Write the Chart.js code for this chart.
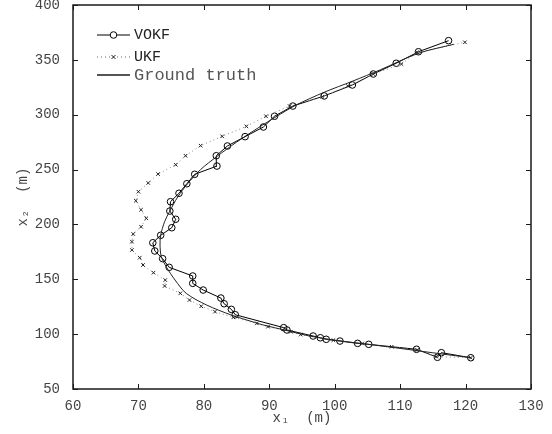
<!DOCTYPE html>
<html>
<head>
<meta charset="utf-8">
<script src="https://cdn.jsdelivr.net/npm/chart.js@4/dist/chart.umd.min.js"></script>
<style>
html, body { margin: 0; padding: 0; background: #fff; }
</style>
</head>
<body>
<canvas id="trackChart" width="552" height="434"></canvas>
<script>
// Trajectory estimates (x1, x2 in metres)

var vokfX = [120.8, 116.3, 115.7, 112.5, 105.2, 103.5, 100.8, 98.7, 97.8, 96.7, 92.7, 92.2,
  84.8, 84.2, 83.1, 82.6, 79.9, 78.3, 78.3, 74.7, 73.7, 72.5, 72.2, 73.4, 75.1, 75.7, 74.8,
  74.9, 76.2, 77.4, 78.6, 82.0, 81.9, 83.6, 86.3, 89.1, 90.8, 93.6, 98.4, 102.7, 105.9, 109.4,
  112.8, 117.4];
var vokfY = [78.5, 83.1, 78.9, 86.2, 90.7, 91.6, 93.7, 95.3, 96.7, 98.3, 103.8, 105.9,
  117.7, 122.6, 127.7, 132.9, 140.2, 146.3, 153.0, 160.9, 168.8, 175.8, 183.3, 190.1, 197.0, 204.7, 212.2,
  220.7, 228.4, 237.1, 245.7, 253.2, 262.6, 271.5, 280.0, 288.8, 298.6, 307.9, 317.1, 327.1, 337.1, 346.9,
  357.4, 367.5];

var ukfX = [120.8, 115.5, 112.6, 108.7, 104.2, 99.8, 94.8, 93.3, 89.8, 88.1, 84.5, 81.7,
  79.6, 77.8, 76.4, 74.0, 74.1, 72.3, 70.7, 70.2, 69.0, 69.0, 69.2, 70.4, 71.2, 70.4,
  69.6, 70.0, 71.5, 73.0, 75.7, 77.2, 79.5, 82.8, 86.5, 89.5, 93.1, 98.1, 102.0, 105.9,
  110.2, 112.6, 119.9];
var ukfY = [78.5, 79.5, 85.5, 88.5, 91.5, 94.5, 99.6, 102.2, 106.8, 109.8, 115.3, 120.5,
  125.4, 131.1, 137.2, 143.9, 149.3, 156.0, 163.0, 169.7, 176.7, 184.3, 191.3, 197.9, 205.6, 213.4,
  221.6, 229.8, 237.8, 245.9, 254.4, 262.6, 271.8, 280.3, 289.4, 298.6, 307.9, 316.4, 326.2, 337.0,
  346.2, 356.9, 366.0];

var truthX = [120.8, 115.0, 110.0, 105.0, 100.0, 96.0, 92.5, 89.0, 86.5, 84.2, 80.4, 77.3,
  75.6, 74.3, 73.5, 73.3, 73.4, 74.0, 74.8, 76.0, 77.5, 79.5, 82.0, 85.0, 88.3, 91.0,
  94.0, 98.4, 102.7, 107.0, 112.8, 118.2];
var truthY = [78.5, 83.0, 87.0, 90.8, 94.5, 98.5, 103.5, 108.5, 113.0, 117.4, 126.6, 137.2,
  149.3, 160.9, 170.6, 181.2, 190.1, 202.5, 212.2, 225.0, 237.0, 250.0, 262.0, 275.0, 288.0, 298.0,
  308.5, 320.5, 330.5, 341.0, 356.0, 364.2];

var xTicks = [60, 70, 80, 90, 100, 110, 120, 130];
var yTicks = [50, 100, 150, 200, 250, 300, 350, 400];

var monoFont = "'Liberation Mono', 'DejaVu Sans Mono', monospace";
var textGrey = '#444';

function pairs(xs, ys) {
  return xs.map(function(x, i) { return {x: x, y: ys[i]}; });
}

// box round the plot, inward tick marks and the legend
var framePlugin = {
  id: 'frame',
  afterDraw: function(chart) {
    var ctx = chart.ctx;
    var a = chart.chartArea;
    var xs = chart.scales.x, ys = chart.scales.y;
    ctx.save();
    ctx.strokeStyle = '#1a1a1a';
    ctx.lineWidth = 1.5;
    ctx.strokeRect(a.left, a.top, a.right - a.left, a.bottom - a.top);

    ctx.lineWidth = 1;
    ctx.beginPath();
    xTicks.forEach(function(v) {
      var p = Math.round(xs.getPixelForValue(v)) + 0.5;
      ctx.moveTo(p, a.bottom); ctx.lineTo(p, a.bottom - 5);
      ctx.moveTo(p, a.top); ctx.lineTo(p, a.top + 5);
    });
    yTicks.forEach(function(v) {
      var p = Math.round(ys.getPixelForValue(v)) + 0.5;
      ctx.moveTo(a.left, p); ctx.lineTo(a.left + 5, p);
      ctx.moveTo(a.right, p); ctx.lineTo(a.right - 5, p);
    });
    ctx.stroke();

    // legend
    var x0 = a.left + 24, x1 = a.left + 57, tx = a.left + 61;
    var rows = [a.top + 30, a.top + 52, a.top + 70];
    ctx.textBaseline = 'middle';
    ctx.textAlign = 'left';

    ctx.strokeStyle = '#000';
    ctx.lineWidth = 1;
    ctx.beginPath(); ctx.moveTo(x0, rows[0]); ctx.lineTo(x1, rows[0]); ctx.stroke();
    ctx.fillStyle = '#fff';
    ctx.beginPath(); ctx.arc((x0 + x1) / 2, rows[0], 3.3, 0, Math.PI * 2); ctx.fill(); ctx.stroke();
    ctx.fillStyle = '#222';
    ctx.font = '15px ' + monoFont;
    ctx.fillText('VOKF', tx, rows[0]);

    ctx.strokeStyle = '#666';
    ctx.setLineDash([1, 3]);
    ctx.beginPath(); ctx.moveTo(x0, rows[1]); ctx.lineTo(x1, rows[1]); ctx.stroke();
    ctx.setLineDash([]);
    var cx = (x0 + x1) / 2, r = 2;
    ctx.strokeStyle = '#222';
    ctx.beginPath();
    ctx.moveTo(cx - r, rows[1] - r); ctx.lineTo(cx + r, rows[1] + r);
    ctx.moveTo(cx + r, rows[1] - r); ctx.lineTo(cx - r, rows[1] + r);
    ctx.stroke();
    ctx.fillText('UKF', tx, rows[1]);

    ctx.strokeStyle = '#555';
    ctx.lineWidth = 2;
    ctx.beginPath(); ctx.moveTo(x0, rows[2]); ctx.lineTo(x1, rows[2]); ctx.stroke();
    ctx.fillStyle = '#555';
    ctx.font = '17px ' + monoFont;
    ctx.fillText('Ground truth', tx, rows[2]);
    ctx.restore();
  }
};

new Chart(document.getElementById('trackChart'), {
  type: 'scatter',
  data: {
    datasets: [{
      label: 'Ground truth',
      data: pairs(truthX, truthY),
      showLine: true,
      borderColor: '#222',
      borderWidth: 1,
      tension: 0.3,
      pointRadius: 0
    }, {
      label: 'UKF',
      data: pairs(ukfX, ukfY),
      showLine: true,
      borderColor: '#888',
      borderWidth: 1,
      borderDash: [1, 3],
      pointStyle: 'crossRot',
      pointRadius: 2.5,
      pointBorderColor: '#222',
      pointBorderWidth: 1
    }, {
      label: 'VOKF',
      data: pairs(vokfX, vokfY),
      showLine: true,
      borderColor: '#000',
      borderWidth: 1,
      pointStyle: 'circle',
      pointRadius: 3.3,
      pointBackgroundColor: 'rgba(0,0,0,0)',
      pointBorderColor: '#000',
      pointBorderWidth: 1
    }]
  },
  options: {
    responsive: false,
    animation: false,
    layout: { padding: { top: 5, right: 21, left: 0, bottom: 0 } },
    plugins: {
      legend: { display: false },
      tooltip: { enabled: false }
    },
    scales: {
      x: {
        type: 'linear',
        min: 60,
        max: 130,
        afterBuildTicks: function(s) { s.ticks = xTicks.map(function(v) { return {value: v}; }); },
        afterFit: function(s) { s.height = 45; s.paddingLeft = 0; s.paddingRight = 0; },
        grid: { display: false },
        border: { display: false },
        ticks: { font: { family: monoFont, size: 14 }, color: textGrey, padding: 1, maxRotation: 0, autoSkip: false },
        title: { display: true, text: 'x\u2081  (m)', font: { family: monoFont, size: 14 }, color: textGrey, padding: { top: 0, bottom: 7 } }
      },
      y: {
        type: 'linear',
        min: 50,
        max: 400,
        afterBuildTicks: function(s) { s.ticks = yTicks.map(function(v) { return {value: v}; }); },
        afterFit: function(s) { s.width = 73; s.paddingTop = 0; s.paddingBottom = 0; },
        grid: { display: false },
        border: { display: false },
        ticks: { font: { family: monoFont, size: 14 }, color: textGrey, padding: 5, autoSkip: false },
        title: { display: true, text: 'x\u2082  (m)', font: { family: monoFont, size: 14 }, color: textGrey, padding: { top: 15, bottom: 0 } }
      }
    }
  },
  plugins: [framePlugin]
});
</script>
</body>
</html>
